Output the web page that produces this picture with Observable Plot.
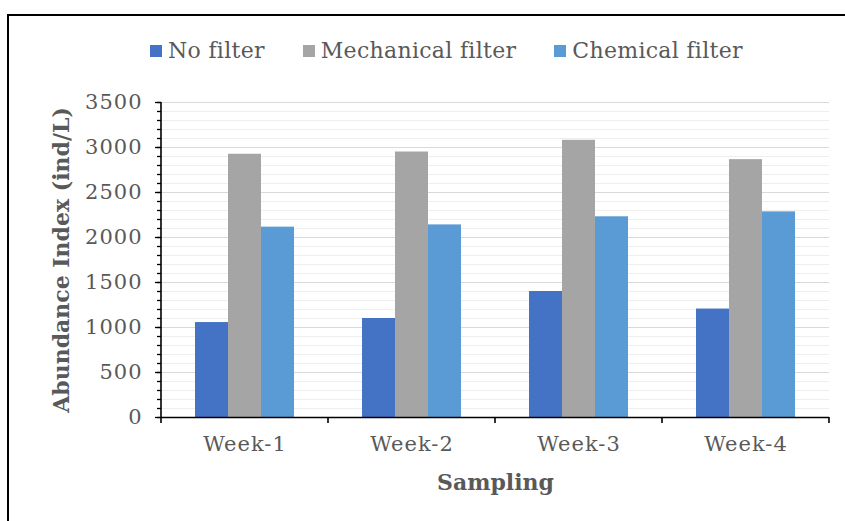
<!DOCTYPE html>
<html>
<head>
<meta charset="utf-8">
<script src="https://cdn.jsdelivr.net/npm/d3@7"></script>
<script src="https://cdn.jsdelivr.net/npm/@observablehq/plot@0.6"></script>
<style>
  html, body { margin: 0; padding: 0; background: #fff; }
  body { width: 845px; height: 521px; position: relative; overflow: hidden; font-family: "DejaVu Serif", serif; }
  #border { position: absolute; left: 7px; top: 14px; width: 900px; height: 600px; border-left: 2px solid #000; border-top: 2px solid #000; }
  #legend { position: absolute; left: 150px; top: 38px; display: flex; align-items: center; font-size: 22px; color: #595959; white-space: nowrap; letter-spacing: 0.3px; }
  #legend .item { display: flex; align-items: center; margin-right: 38px; }
  #legend .sw { width: 12px; height: 12px; margin-right: 6px; }
  #chart { position: absolute; left: 0; top: 0; }
  [aria-label="y-axis label"], [aria-label="fx-axis label"] { font-weight: bold; font-size: 22px; letter-spacing: 0; }
  [aria-label="y-axis tick label"], [aria-label="fx-axis tick label"] { letter-spacing: 1px; }
</style>
</head>
<body>
<div id="border"></div>
<div id="legend"></div>
<div id="chart"></div>
<script>
const weeks = ["Week-1", "Week-2", "Week-3", "Week-4"];
const series = ["No filter", "Mechanical filter", "Chemical filter"];
const noFilter = [1055, 1100, 1400, 1205];
const mechanicalFilter = [2925, 2950, 3080, 2865];
const chemicalFilter = [2115, 2140, 2230, 2285];
const majorTicks = [0, 500, 1000, 1500, 2000, 2500, 3000, 3500];
const minorTicks = d3.range(0, 3501, 100);
const colors = ["#4472c4", "#a5a5a5", "#5b9bd5"];

const valuesBySeries = [noFilter, mechanicalFilter, chemicalFilter];
const rows = [];
weeks.forEach((w, i) => series.forEach((s, j) => rows.push({week: w, series: s, value: valuesBySeries[j][i]})));

// legend
const legend = document.getElementById("legend");
series.forEach((s, j) => {
  const it = document.createElement("div");
  it.className = "item";
  it.innerHTML = `<span class="sw" style="background:${colors[j]}"></span><span>${s}</span>`;
  legend.appendChild(it);
});

const chart = Plot.plot({
  width: 845,
  height: 521,
  marginLeft: 160,
  marginRight: 16,
  marginTop: 102,
  marginBottom: 104,
  style: {fontFamily: "'DejaVu Serif', serif", background: "transparent", overflow: "visible"},
  fx: {domain: weeks, padding: 0, label: null},
  x: {domain: series, paddingInner: 0, paddingOuter: 1, axis: null},
  y: {domain: [0, 3500], label: null},
  color: {domain: series, range: colors},
  marks: [
    Plot.gridY(minorTicks, {stroke: "#eeeeee", strokeOpacity: 1}),
    Plot.gridY(majorTicks, {stroke: "#d9d9d9", strokeOpacity: 1}),
    Plot.barY(rows, {fx: "week", x: "series", y: "value", fill: "series"}),
    Plot.ruleY([0], {stroke: "#000", strokeWidth: 1.6}),
    Plot.axisY(minorTicks, {tickSize: 4, text: null, stroke: "#000", strokeWidth: 1.3, label: null}),
    Plot.axisY(majorTicks, {tickSize: 6, tickPadding: 13, fontSize: 21, fill: "#595959", stroke: "#000", strokeWidth: 1.3,
      tickFormat: d => String(d),
      label: "Abundance Index (ind/L)", labelAnchor: "center", labelOffset: 108, labelArrow: false}),
    Plot.axisFx({anchor: "bottom", tickSize: 0, tickPadding: 19, fontSize: 21, fill: "#595959",
      label: "Sampling", labelAnchor: "center", labelOffset: 72, labelArrow: false})
  ]
});
document.getElementById("chart").appendChild(chart);

// axis line and category boundary ticks, placed via the plot's own scales
const fx = chart.scale("fx");
const y = chart.scale("y");
const svg = d3.select(chart);
const x0 = fx.apply(weeks[0]);
const y0 = y.apply(0);
svg.append("line").attr("x1", x0).attr("x2", x0).attr("y1", y.apply(3500)).attr("y2", y0)
  .attr("stroke", "#000").attr("stroke-width", 1.6);
const bounds = weeks.map(w => fx.apply(w)).concat([fx.apply(weeks[weeks.length - 1]) + fx.bandwidth]);
svg.append("g").selectAll("line").data(bounds).join("line")
  .attr("x1", d => d).attr("x2", d => d).attr("y1", y0).attr("y2", y0 + 6)
  .attr("stroke", "#000").attr("stroke-width", 1.6);
</script>
</body>
</html>
